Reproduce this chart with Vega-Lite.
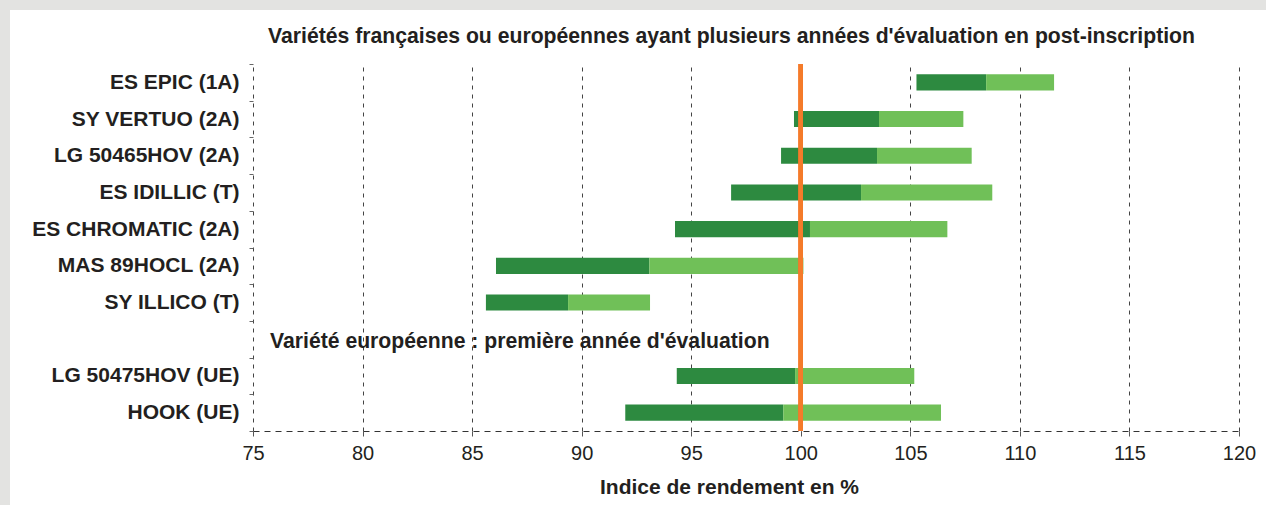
{
  "$schema": "https://vega.github.io/schema/vega-lite/v6.json",
  "background": "white",
  "padding": 0,
  "spacing": 0,
  "config": {"view": {"stroke": null}, "font": "Liberation Sans"},
  "vconcat": [
    {
      "width": 1266,
      "height": 10,
      "view": {"fill": "#e3e3e1", "stroke": null},
      "data": {"values": []},
      "mark": "point",
      "encoding": {}
    },
    {
      "spacing": 21,
      "hconcat": [
        {
          "width": 10,
          "height": 495,
          "view": {"fill": "#e3e3e1", "stroke": null},
          "data": {"values": []},
          "mark": "point",
          "encoding": {}
        },
        {
          "spacing": 14,
          "vconcat": [
            {
              "width": 986,
              "height": 1,
              "view": {"fill": null, "stroke": null},
              "data": {"values": []},
              "mark": "point",
              "encoding": {}
            },
            {
              "width": 986,
              "height": 367,
              "title": {
                "text": "Variétés françaises ou européennes ayant plusieurs années d'évaluation en post-inscription",
                "fontSize": 21.2,
                "fontWeight": "bold",
                "font": "Liberation Sans",
                "color": "#231f20",
                "anchor": "start",
                "frame": "group",
                "dx": 15,
                "offset": 6
              },
              "data": {
                "values": [
                  {"variete": "ES EPIC (1A)", "debut": 105.28, "milieu": 108.46, "fin": 111.56},
                  {"variete": "SY VERTUO (2A)", "debut": 99.69, "milieu": 103.57, "fin": 107.42},
                  {"variete": "LG 50465HOV (2A)", "debut": 99.1, "milieu": 103.48, "fin": 107.8},
                  {"variete": "ES IDILLIC (T)", "debut": 96.82, "milieu": 102.75, "fin": 108.74},
                  {"variete": "ES CHROMATIC (2A)", "debut": 94.26, "milieu": 100.42, "fin": 106.69},
                  {"variete": "MAS 89HOCL (2A)", "debut": 86.09, "milieu": 93.09, "fin": 100.12},
                  {"variete": "SY ILLICO (T)", "debut": 85.63, "milieu": 89.38, "fin": 93.12},
                  {"variete": "LG 50475HOV (UE)", "debut": 94.34, "milieu": 99.74, "fin": 105.18},
                  {"variete": "HOOK (UE)", "debut": 91.99, "milieu": 99.2, "fin": 106.4}
                ]
              },
              "layer": [
                {
                  "mark": {"type": "bar", "color": "#2d8a40", "height": {"band": 0.44}},
                  "encoding": {
                    "y": {
                      "field": "variete",
                      "type": "nominal",
                      "scale": {
                        "domain": ["ES EPIC (1A)", "SY VERTUO (2A)", "LG 50465HOV (2A)", "ES IDILLIC (T)", "ES CHROMATIC (2A)", "MAS 89HOCL (2A)", "SY ILLICO (T)", " ", "LG 50475HOV (UE)", "HOOK (UE)"],
                        "paddingInner": 0,
                        "paddingOuter": 0
                      },
                      "axis": {
                        "title": null,
                        "domain": false,
                        "grid": false,
                        "tickBand": "extent",
                        "tickSize": 4,
                        "tickColor": "#666666",
                        "labelFontSize": 21,
                        "labelFontWeight": "bold",
                        "labelFont": "Liberation Sans",
                        "labelColor": "#231f20",
                        "labelPadding": 10,
                        "labelLimit": 400
                      }
                    },
                    "x": {
                      "field": "debut",
                      "type": "quantitative",
                      "scale": {"domain": [75, 120], "nice": false, "zero": false},
                      "axis": {
                        "values": [75, 80, 85, 90, 95, 100, 105, 110, 115, 120],
                        "grid": true,
                        "gridDash": [4, 5],
                        "gridColor": "#444444",
                        "domainDash": [6, 5],
                        "domainColor": "#333333",
                        "tickColor": "#555555",
                        "tickSize": 5,
                        "labelFontSize": 20,
                        "labelFont": "Liberation Sans",
                        "labelColor": "#231f20",
                        "labelPadding": 7,
                        "labelFlush": false,
                        "labelOverlap": false,
                        "title": "Indice de rendement en %",
                        "titleFontSize": 21,
                        "titleFontWeight": "bold",
                        "titleFont": "Liberation Sans",
                        "titleColor": "#231f20",
                        "titlePadding": 13,
                        "titleX": 476
                      }
                    },
                    "x2": {"field": "milieu"}
                  }
                },
                {
                  "mark": {"type": "bar", "color": "#70c058", "height": {"band": 0.44}},
                  "encoding": {
                    "y": {"field": "variete", "type": "nominal"},
                    "x": {"field": "milieu", "type": "quantitative"},
                    "x2": {"field": "fin"}
                  }
                },
                {
                  "data": {"values": [{"variete": " ", "label": "Variété européenne : première année d'évaluation"}]},
                  "mark": {"type": "text", "align": "left", "baseline": "middle", "dx": 17, "dy": 3, "fontSize": 21.2, "fontWeight": "bold", "font": "Liberation Sans", "color": "#231f20"},
                  "encoding": {
                    "y": {"field": "variete", "type": "nominal"},
                    "x": {"datum": 75},
                    "text": {"field": "label"}
                  }
                },
                {
                  "mark": {"type": "rule", "color": "#f47b2a", "strokeWidth": 4},
                  "encoding": {"x": {"datum": 100}}
                }
              ]
            }
          ]
        }
      ]
    }
  ]
}
